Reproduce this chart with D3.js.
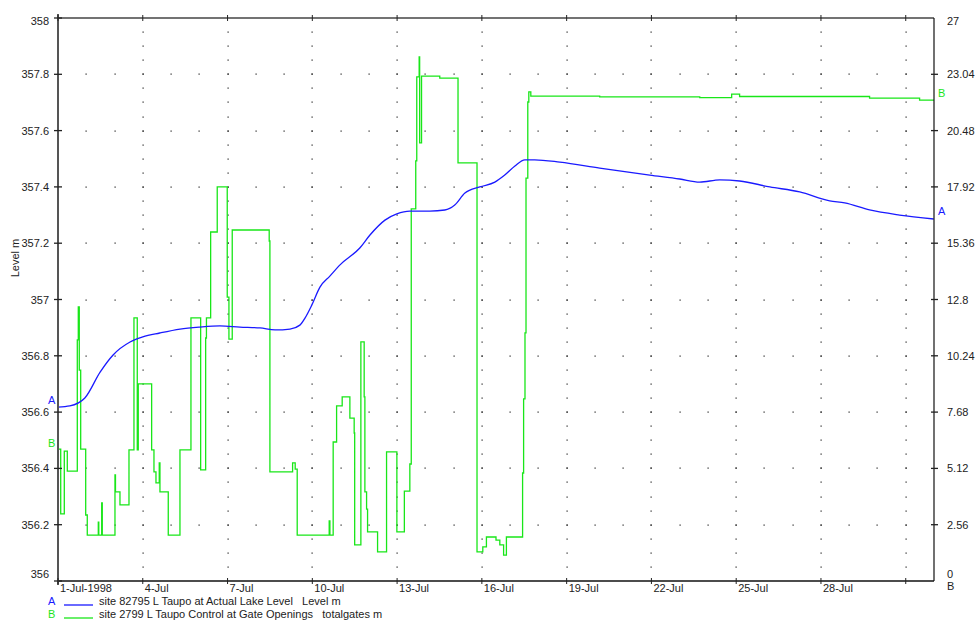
<!DOCTYPE html>
<html>
<head>
<meta charset="utf-8">
<script src="https://cdn.jsdelivr.net/npm/d3@7"></script>
<style>
  body { margin: 0; background: #fff; }
  svg { font-family: "Liberation Sans", Arial, sans-serif; font-size: 11px; }
  text { white-space: pre; }
</style>
</head>
<body>
<svg id="chart" width="977" height="620"></svg>
<script>
// lake level, days after 1-Jul-1998 00:00
const levelDays = [0, 0.42, 0.95, 1.49, 1.95, 2.55, 3.0, 3.6, 4.32, 5.02, 5.73, 6.44, 7.15, 7.68, 8.21, 8.56, 8.74, 8.98, 9.27, 9.62, 9.98, 10.68, 11.04, 11.57, 11.99, 12.45, 13.16, 13.69, 14.04, 14.4, 14.93, 15.46, 15.81, 16.17, 16.52, 16.87, 17.76, 19.17, 20.94, 22.0, 22.71, 23.42, 24.12, 25.19, 26.25, 27.31, 27.84, 28.72, 29.78, 30.99];
const levelValues = [356.618, 356.622, 356.650, 356.742, 356.803, 356.849, 356.867, 356.881, 356.895, 356.902, 356.906, 356.902, 356.899, 356.892, 356.895, 356.909, 356.934, 356.980, 357.044, 357.083, 357.123, 357.183, 357.229, 357.282, 357.304, 357.314, 357.314, 357.318, 357.336, 357.378, 357.400, 357.417, 357.442, 357.474, 357.496, 357.496, 357.488, 357.467, 357.442, 357.428, 357.417, 357.425, 357.421, 357.400, 357.382, 357.350, 357.343, 357.318, 357.300, 357.286];

// gate openings (step series), days after 1-Jul-1998
const gateDays = [0, 0.096, 0.223, 0.329, 0.683, 0.718, 0.753, 0.803, 0.98, 1.036, 1.426, 1.443, 1.546, 1.567, 2.016, 2.034, 2.193, 2.512, 2.688, 2.805, 2.84, 3.314, 3.396, 3.467, 3.583, 3.608, 3.902, 4.316, 4.705, 5.048, 5.225, 5.253, 5.402, 5.635, 5.989, 6.049, 6.166, 7.474, 7.499, 8.302, 8.394, 8.465, 9.597, 9.622, 9.738, 9.859, 10.057, 10.329, 10.481, 10.499, 10.718, 10.835, 10.86, 10.92, 10.955, 11.309, 11.627, 11.992, 12.257, 12.451, 12.501, 12.66, 12.696, 12.781, 12.798, 12.865, 13.51, 14.156, 14.828, 15.033, 15.161, 15.5, 15.635, 15.769, 15.868, 16.441, 16.477, 16.526, 16.562, 16.625, 16.661, 16.732, 19.17, 22.71, 23.84, 24.12, 28.72, 30.49, 31];
const gateValues = [6.00, 3.05, 5.91, 5.00, 10.96, 12.46, 9.59, 6.00, 3.00, 2.09, 2.68, 2.09, 3.55, 2.09, 4.82, 4.05, 3.46, 5.96, 11.96, 5.96, 8.96, 5.96, 4.96, 4.46, 5.37, 4.05, 2.09, 5.96, 11.96, 5.05, 11.05, 11.96, 15.87, 17.92, 12.91, 11.00, 15.96, 15.46, 4.96, 5.37, 5.09, 2.09, 2.73, 2.09, 6.32, 7.96, 8.37, 7.41, 6.73, 1.64, 10.87, 8.37, 4.05, 3.27, 2.23, 1.32, 5.87, 2.23, 4.09, 5.32, 16.92, 19.10, 22.92, 23.83, 19.92, 22.96, 22.87, 19.01, 1.32, 1.55, 2.00, 1.86, 1.64, 1.18, 2.00, 4.91, 8.28, 11.28, 18.32, 21.78, 22.24, 22.05, 22.01, 21.98, 22.14, 22.03, 21.96, 21.87, 21.87];

const xTickLabels = ["1-Jul-1998", "4-Jul", "7-Jul", "10-Jul", "13-Jul", "16-Jul", "19-Jul", "22-Jul", "25-Jul", "28-Jul", ""];
const leftTicks = [356, 356.2, 356.4, 356.6, 356.8, 357, 357.2, 357.4, 357.6, 357.8, 358];
const leftTickLabels = ["356", "356.2", "356.4", "356.6", "356.8", "357", "357.2", "357.4", "357.6", "357.8", "358"];
const rightTicks = [0, 2.56, 5.12, 7.68, 10.24, 12.8, 15.36, 17.92, 20.48, 23.04, 25.6];
const rightTickLabels = ["0", "2.56", "5.12", "7.68", "10.24", "12.8", "15.36", "17.92", "20.48", "23.04", "27"];

const series = [
  { key: "A", color: "#1a1aff", text: "site 82795 L Taupo at Actual Lake Level   Level m" },
  { key: "B", color: "#19e619", text: "site 2799 L Taupo Control at Gate Openings   totalgates m" }
];

const start = new Date(1998, 6, 1);
const toDate = d => new Date(start.getTime() + d * 864e5);

const pL = 58, pR = 934, pT = 18, pB = 581;
const svg = d3.select("#chart");

const x = d3.scaleTime().domain([start, new Date(1998, 7, 1)]).range([pL, pR]);
const yL = d3.scaleLinear().domain([356, 358]).range([pB, pT]);
const yR = d3.scaleLinear().domain([0, 25.6]).range([pB, pT]);

const xTicks = d3.timeDay.every(3).range(start, new Date(1998, 7, 1));

// dotted grid
const dots = [];
xTicks.slice(1).forEach(t => {
  d3.range(1, 40).forEach(i => dots.push([x(t), yL(356 + i * 0.05)]));
});
leftTicks.slice(1, -1).forEach(v => {
  d3.range(1, 31).forEach(d => dots.push([x(toDate(d)), yL(v)]));
});
svg.append("g").selectAll("rect").data(dots).join("rect")
  .attr("x", d => Math.round(d[0]) - 0.5).attr("y", d => Math.round(d[1]) - 0.5)
  .attr("width", 1.2).attr("height", 1.2).attr("fill", "#222");

svg.append("clipPath").attr("id", "plot")
  .append("rect").attr("x", pL).attr("y", pT).attr("width", pR - pL).attr("height", pB - pT);

const gateLine = d3.line().curve(d3.curveStepAfter)
  .x((d, i) => x(toDate(gateDays[i]))).y(d => yR(d));
const levelLine = d3.line().curve(d3.curveMonotoneX)
  .x((d, i) => x(toDate(levelDays[i]))).y(d => yL(d));

svg.append("path").datum(gateValues).attr("clip-path", "url(#plot)")
  .attr("d", gateLine).attr("fill", "none").attr("stroke", series[1].color).attr("stroke-width", 1.3);
svg.append("path").datum(levelValues).attr("clip-path", "url(#plot)")
  .attr("d", levelLine).attr("fill", "none").attr("stroke", series[0].color).attr("stroke-width", 1.3);

// frame
svg.append("line").attr("x1", pL).attr("x2", pR).attr("y1", pT).attr("y2", pT).attr("stroke", "#444").attr("stroke-width", 1.3);
svg.append("line").attr("x1", pL).attr("x2", pR).attr("y1", pB).attr("y2", pB).attr("stroke", "#111").attr("stroke-width", 1.3);
svg.append("line").attr("x1", pL).attr("x2", pL).attr("y1", pT - 4).attr("y2", pB + 4).attr("stroke", "#555").attr("stroke-width", 2);
svg.append("line").attr("x1", pR).attr("x2", pR).attr("y1", pT).attr("y2", pB).attr("stroke", "#111").attr("stroke-width", 1.2);

// x ticks top and bottom
const xt = svg.append("g");
xTicks.forEach((t, i) => {
  xt.append("line").attr("x1", x(t)).attr("x2", x(t)).attr("y1", pT - 3).attr("y2", pT + 3).attr("stroke", "#222");
  xt.append("line").attr("x1", x(t)).attr("x2", x(t)).attr("y1", pB - 3).attr("y2", pB + 3).attr("stroke", "#222");
  xt.append("text").attr("x", x(t) + 2).attr("y", pB + 11).attr("fill", "#222").text(xTickLabels[i]);
});

// left axis
const lt = svg.append("g");
leftTicks.forEach((v, i) => {
  lt.append("line").attr("x1", pL - 4).attr("x2", pL + 4).attr("y1", yL(v)).attr("y2", yL(v)).attr("stroke", "#222").attr("stroke-width", 1.3);
  const dy = i === 0 ? -3 : i === leftTicks.length - 1 ? 7 : 4;
  lt.append("text").attr("x", 49).attr("y", yL(v) + dy).attr("text-anchor", "end").attr("fill", "#222").text(leftTickLabels[i]);
});

// right axis
const rt = svg.append("g");
rightTicks.forEach((v, i) => {
  if (i > 0 && i < rightTicks.length - 1)
    rt.append("line").attr("x1", pR - 3).attr("x2", pR + 4).attr("y1", yR(v)).attr("y2", yR(v)).attr("stroke", "#222").attr("stroke-width", 1.3);
  const dy = i === 0 ? -3 : i === rightTicks.length - 1 ? 7 : 4;
  rt.append("text").attr("x", 947).attr("y", yR(v) + dy).attr("fill", "#222").text(rightTickLabels[i]);
});
svg.append("text").attr("x", 947).attr("y", pB + 9).attr("fill", "#222").text("B");

// axis title
svg.append("text").attr("transform", "translate(19,258) rotate(-90)").attr("text-anchor", "middle").attr("fill", "#222").text("Level m");

// series end labels
svg.append("text").attr("x", 48).attr("y", yL(levelValues[0]) - 3).attr("fill", series[0].color).text("A");
svg.append("text").attr("x", 48).attr("y", yR(gateValues[0]) - 2).attr("fill", series[1].color).text("B");
svg.append("text").attr("x", 938).attr("y", yL(levelValues[levelValues.length - 1]) - 4).attr("fill", series[0].color).text("A");
svg.append("text").attr("x", 938).attr("y", yR(gateValues[gateValues.length - 1]) - 3).attr("fill", series[1].color).text("B");

// legend
const lg = svg.append("g");
series.forEach((s, i) => {
  const yy = 605 + i * 13;
  lg.append("text").attr("x", 48).attr("y", yy).attr("fill", s.color).text(s.key);
  lg.append("line").attr("x1", 64).attr("x2", 93).attr("y1", yy).attr("y2", yy).attr("stroke", s.color).attr("stroke-width", 1.3);
  lg.append("text").attr("x", 99).attr("y", yy).attr("fill", "#222").text(s.text);
});
</script>
</body>
</html>
